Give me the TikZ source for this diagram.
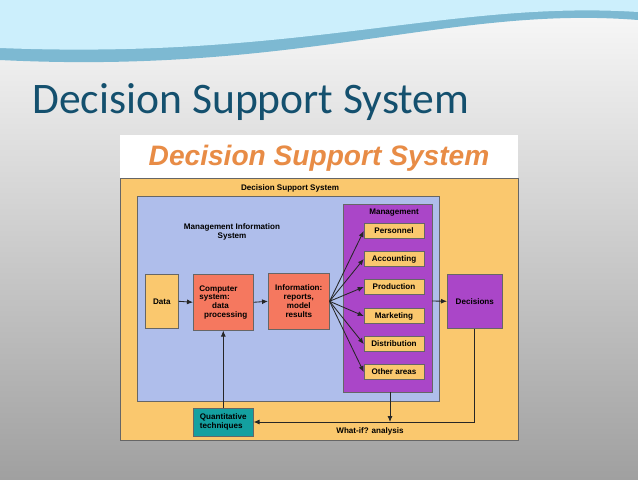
\documentclass[tikz,border=0pt]{standalone}
\usepackage{fontspec}
\setmainfont{Liberation Sans}
\newfontfamily\titlefont{Carlito}
\usetikzlibrary{arrows.meta}
\definecolor{slidebg}{RGB}{200,200,200}
\definecolor{dssorange}{RGB}{250,200,110}
\definecolor{misblue}{RGB}{175,190,235}
\definecolor{mgmtpurple}{RGB}{170,70,200}
\definecolor{procred}{RGB}{245,120,95}
\definecolor{quantteal}{RGB}{20,160,160}
\definecolor{titleteal}{RGB}{20,80,110}
\definecolor{bannerorange}{RGB}{232,140,70}
\newcommand\pxu{0.5mm}
\tikzset{
  lbl/.style={font=\bfseries\fontsize{11.5}{12.5}\selectfont, align=center, inner sep=0pt},
  block/.style={draw=black!60, thick, anchor=north west, inner sep=0pt},
  flow/.style={-{Latex[length=3mm,width=2.5mm]}, very thick, black!85}
}
\begin{document}
\begin{tikzpicture}[x=0.5mm,y=-0.5mm]
\useasboundingbox (0,0) rectangle (638,479);
% slide background
\shade[top color=white!90!slidebg, bottom color=slidebg!80!black] (0,0) rectangle (638,479);
\fill[cyan!40!teal!60] (0,0) -- (638,0) -- (638,20) .. controls (450,5) and (300,75) .. (0,60) -- cycle;
\fill[white!80!cyan] (0,0) -- (638,0) -- (638,12) .. controls (450,0) and (300,60) .. (0,48) -- cycle;
\node[anchor=west, text=titleteal, font=\titlefont\fontsize{62}{64}\selectfont] (title) at (30,102) {Decision Support System};
% banner
\fill[white] (120,135) rectangle (518,178);
\node[text=bannerorange, draw opacity=0, font=\bfseries\itshape\fontsize{40}{42}\selectfont] (banner) at (319,158) {Decision Support System};
% boxes
\filldraw[fill=dssorange, draw=black!60, thick] (120,178) rectangle (518,440);
\node[lbl] (dsslbl) at (290,188) {Decision Support System};
\filldraw[fill=misblue, draw=black!60, thick] (137,196) rectangle (439,401);
\node[lbl] (mislbl) at (232,232) {Management Information\\System};
\filldraw[fill=mgmtpurple, draw=black!60, thick] (343,204) rectangle (432,392);
\node[lbl] (mgmtlbl) at (394,213) {Management};
\node[block, fill=dssorange, minimum width=33*\pxu, minimum height=54*\pxu] (data) at (145,274) {};
\node[lbl] at (data.center) {Data};
\node[block, fill=procred, minimum width=60*\pxu, minimum height=56*\pxu] (comp) at (193,274) {};
\node[lbl, align=left] at (comp.center) {Computer\\system:\\\hspace*{1.6em}data\\\hspace*{0.6em}processing};
\node[block, fill=procred, minimum width=61*\pxu, minimum height=56*\pxu] (info) at (268,273) {};
\node[lbl] at (info.center) {Information:\\reports,\\model\\results};
\node[block, fill=mgmtpurple, minimum width=55*\pxu, minimum height=54*\pxu] (dec) at (447,274) {};
\node[lbl] at (dec.center) {Decisions};
\node[block, fill=quantteal, minimum width=60*\pxu, minimum height=28*\pxu] (quant) at (193,408) {};
\node[lbl, align=left] at (quant.center) {Quantitative\\techniques};
\foreach \name/\txt/\y in {pers/Personnel/231, acct/Accounting/259, prod/Production/287, mark/Marketing/316, dist/Distribution/344, other/Other areas/372}{
  \node[block, anchor=center, fill=dssorange, minimum width=60*\pxu, minimum height=15*\pxu] (\name) at (394,\y) {};
  \node[lbl] at (\name.center) {\txt};
  \draw[flow] (info.east) -- (\name.west);
}
\draw[flow] (data.east) -- (comp.west);
\draw[flow] (comp.east) -- (info.west);
\draw[flow] (432,301) -- (dec.west);
\draw[flow] (quant.north) -- (comp.south);
\coordinate (mgmtfoot) at (390,392);
\coordinate (mgmtjoin) at (390,422);
\coordinate (decjoin) at (474,422);
\draw[flow] (mgmtfoot) -- (mgmtjoin);
\draw[flow] (dec.south -| decjoin) -- (decjoin) -- (quant.east |- decjoin);
\node[lbl] (whatif) at (370,431) {What-if? analysis};
\end{tikzpicture}
\end{document}
